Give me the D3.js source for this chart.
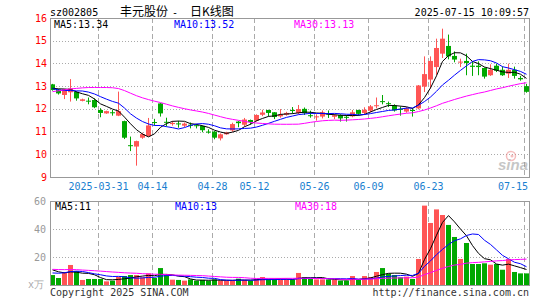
<!DOCTYPE html>
<html><head><meta charset="utf-8">
<script src="https://cdn.jsdelivr.net/npm/d3@7"></script>
<style>
body{margin:0;background:#fff}
svg{display:block}
text{font-family:"DejaVu Sans Mono","Liberation Mono",monospace;font-size:10px}
</style>
</head><body>
<svg id="chart" width="545" height="300"></svg>
<script>
// ---- data ----
const dates = ["03-19","03-20","03-21","03-24","03-25","03-26","03-27","03-28","03-31",
"04-01","04-02","04-03","04-07","04-08","04-09","04-10","04-11","04-14","04-15","04-16","04-17","04-18","04-21","04-22","04-23","04-24","04-25","04-28","04-29","04-30",
"05-06","05-07","05-08","05-09","05-12","05-13","05-14","05-15","05-16","05-19","05-20","05-21","05-22","05-23","05-26","05-27","05-28","05-29","05-30",
"06-03","06-04","06-05","06-06","06-09","06-10","06-11","06-12","06-13","06-16","06-17","06-18","06-19","06-20","06-23","06-24","06-25","06-26","06-27","06-30",
"07-01","07-02","07-03","07-04","07-07","07-08","07-09","07-10","07-11","07-14","07-15"];
const opens  = [13.08,12.85,12.61,12.73,12.75,12.35,12.36,12.39,11.95,11.80,11.85,11.70,11.46,10.40,10.34,10.73,10.80,11.42,12.24,11.43,
11.33,11.36,11.26,11.30,11.28,11.25,11.00,11.00,10.70,10.88,11.05,11.44,11.30,11.51,11.48,11.74,11.95,11.85,11.67,11.74,
11.95,11.82,12.00,11.72,11.64,11.66,11.80,11.65,11.73,11.65,11.67,11.95,11.82,11.92,12.12,12.34,12.25,12.15,12.00,11.88,
11.95,12.02,12.98,13.29,13.84,14.43,14.77,14.33,14.05,14.11,13.90,13.90,13.80,13.48,13.90,13.72,13.55,13.72,13.36,13.00];
const highs  = [13.10,12.88,12.88,13.31,12.78,12.45,12.50,12.46,12.03,11.92,11.95,12.76,11.48,10.78,10.60,10.95,11.60,11.56,12.25,11.61,
11.46,11.47,11.40,11.40,11.33,11.27,11.10,11.02,10.92,10.99,11.39,11.46,11.60,11.53,11.76,11.96,11.96,11.86,11.99,11.87,
12.08,12.17,12.06,11.92,11.76,11.93,11.93,11.77,11.76,11.73,11.95,11.96,12.07,12.17,12.50,12.61,12.32,12.20,12.11,12.08,
12.04,13.05,14.31,14.31,15.09,15.53,15.27,14.53,14.21,14.43,14.10,14.09,13.82,13.96,13.99,13.87,13.99,13.86,13.45,13.10];
const lows   = [12.80,12.63,12.43,12.32,12.36,12.33,12.20,12.03,11.63,11.78,11.70,11.68,10.67,10.14,9.50,10.68,10.78,11.26,11.66,11.22,
11.26,11.17,11.20,11.14,11.14,10.97,10.91,10.66,10.61,10.86,10.99,11.19,11.22,11.30,11.44,11.68,11.67,11.55,11.61,11.70,
11.79,11.76,11.73,11.61,11.48,11.58,11.60,11.55,11.44,11.44,11.63,11.70,11.73,11.85,12.02,12.20,12.08,11.88,11.70,11.83,
11.66,11.98,12.74,12.90,13.50,14.24,14.18,14.05,13.84,13.48,13.45,13.48,13.33,13.45,13.62,13.45,13.36,13.33,13.24,12.71];
const closes = [12.83,12.68,12.86,12.90,12.46,12.42,12.33,12.07,11.82,11.90,11.83,11.90,10.73,10.36,10.58,10.89,11.27,11.40,11.80,11.40,
11.38,11.33,11.35,11.28,11.25,11.06,10.98,10.73,10.88,10.96,11.33,11.37,11.53,11.42,11.73,11.84,11.82,11.64,11.75,11.82,
11.92,11.99,11.81,11.70,11.67,11.85,11.77,11.72,11.58,11.62,11.85,11.78,11.96,12.11,12.16,12.30,12.23,11.93,11.98,12.02,
11.92,13.03,13.53,14.11,14.68,15.09,14.31,14.17,14.08,14.02,13.85,13.84,13.42,13.72,13.68,13.48,13.72,13.45,13.30,12.75];
// volume, unit 万手
const volumes = [7.1,5.0,9.3,14.3,10.0,3.6,4.3,4.3,4.3,2.6,3.1,5.7,6.4,7.1,7.1,5.5,8.3,5.0,12.1,7.1,
3.8,3.6,3.1,4.0,3.1,3.6,3.1,4.0,3.1,3.1,3.1,4.5,3.6,3.1,4.5,5.7,4.0,4.0,4.0,4.0,
3.6,8.6,5.7,4.3,4.0,4.0,4.0,3.6,3.1,3.1,6.4,3.6,6.4,5.7,9.3,12.1,8.1,7.1,5.5,6.0,
4.3,18.6,56.7,44.3,54.0,50.0,42.9,34.3,18.6,30.0,15.0,15.0,15.5,14.5,15.0,10.9,18.6,9.3,8.3,8.3];
// 29 sessions before the first visible one (estimated, only feed the moving averages)
const prevCloses = [11.5,11.6,11.7,11.8,11.7,11.9,12.0,11.9,11.9,12.1,
13.0,13.4,13.8,13.9,13.7,13.6,13.5,13.6,13.6,13.6,
13.3,13.1,12.9,12.6,12.5,12.8,12.9,13.0,13.0];
const prevVolumes = [10,11,12,13,12,11,12,13,12,12,
14,15,13,12,14,13,12,14,13,12,
7,6,6,7,6,12,13,11,11];
// legend values as printed on the reference
const priceMALegend = ["13.34","13.52","13.13"];
const volumeMALegend = ["11","13","18"];
const priceTicks = [9,10,11,12,13,14,15,16];
const volumeTicks = [20,40,60];
const dateTicks = ["03-31","04-14","04-28","05-12","05-26","06-09","06-23","07-15"];
const dateTickLabels = ["2025-03-31","04-14","04-28","05-12","05-26","06-09","06-23","07-15"];
const maPeriods = [5,10,30];
const maColors = ["#000000","#0000ff","#ff00ff"];

// ---- layout ----
const svg = d3.select("#chart");
const L = 50, R = 529;
const P = {top:18, bottom:177};
const V = {top:201, bottom:285};
const UP = "#ff5555", DOWN = "#00a800", GRID = "#aaaaaa", BORDER = "#999999";

const x = d3.scaleBand().domain(dates).range([L, R]).paddingInner(1/6).paddingOuter(0);
const bw = x.bandwidth();
const cx = d => x(d) + bw/2;
const y = d3.scaleLinear().domain([9,16]).range([P.bottom, P.top]);
const yv = d3.scaleLinear().domain([0,60]).range([V.bottom, V.top]);

function movingAvg(prev, vals, n){
  const all = prev.concat(vals), off = prev.length;
  return vals.map((v,i)=> d3.mean(all.slice(off+i-n+1, off+i+1)));
}
const priceMA = maPeriods.map(n=>movingAvg(prevCloses, closes, n));
const volMA = maPeriods.map(n=>movingAvg(prevVolumes, volumes, n));

function panel(top, bottom, yScale, ticks){
  const g = svg.append("g");
  g.selectAll("line.h").data(ticks.filter(t=>yScale(t)>top+1 && yScale(t)<bottom-1)).join("line")
    .attr("x1",L).attr("x2",R).attr("y1",d=>Math.round(yScale(d))+0.5).attr("y2",d=>Math.round(yScale(d))+0.5)
    .attr("stroke",GRID).attr("stroke-dasharray","1,2");
  g.selectAll("line.v").data(dateTicks).join("line")
    .attr("x1",d=>x(d)+0.5).attr("x2",d=>x(d)+0.5).attr("y1",top).attr("y2",bottom)
    .attr("stroke",GRID).attr("stroke-dasharray","5,3");
  return g;
}
panel(P.top, P.bottom, y, priceTicks);
panel(V.top, V.bottom, yv, volumeTicks);

// candles
const idx = d3.range(dates.length);
const isUp = i => closes[i] >= opens[i];
const cg = svg.append("g");
cg.selectAll("line").data(idx).join("line")
  .attr("x1",i=>Math.floor(cx(dates[i]))+0.5).attr("x2",i=>Math.floor(cx(dates[i]))+0.5)
  .attr("y1",i=>y(highs[i])).attr("y2",i=>y(lows[i]))
  .attr("stroke",i=>isUp(i)?UP:DOWN);
cg.selectAll("rect").data(idx).join("rect")
  .attr("x",i=>x(dates[i])).attr("width",bw)
  .attr("y",i=>y(Math.max(opens[i],closes[i])))
  .attr("height",i=>Math.max(1, Math.abs(y(opens[i])-y(closes[i]))))
  .attr("fill",i=>isUp(i)?UP:DOWN);

// volume bars
svg.append("g").selectAll("rect").data(idx).join("rect")
  .attr("x",i=>x(dates[i])).attr("width",bw)
  .attr("y",i=>yv(volumes[i])).attr("height",i=>yv(0)-yv(volumes[i]))
  .attr("fill",i=>isUp(i)?UP:DOWN);

// moving averages
const lineP = d3.line().x((d,i)=>cx(dates[i])).y(d=>y(d));
const lineV = d3.line().x((d,i)=>cx(dates[i])).y(d=>yv(d));
maPeriods.forEach((n,k)=>{
  svg.append("path").attr("d",lineP(priceMA[k])).attr("fill","none").attr("stroke",maColors[k]).attr("stroke-width",1);
  svg.append("path").attr("d",lineV(volMA[k])).attr("fill","none").attr("stroke",maColors[k]).attr("stroke-width",1);
});

// borders
[[P.top,P.bottom],[V.top,V.bottom]].forEach(([t,b])=>{
  svg.append("rect").attr("x",L+0.5).attr("y",t+0.5).attr("width",R-L).attr("height",b-t)
    .attr("fill","none").attr("stroke",BORDER);
});

// watermark
const wm = svg.append("g").attr("opacity",0.55);
wm.append("circle").attr("cx",511).attr("cy",156).attr("r",4.5).attr("fill","none").attr("stroke","#e88").attr("stroke-width",1.5);
wm.append("circle").attr("cx",512).attr("cy",156).attr("r",1.5).attr("fill","#e88");
wm.append("text").attr("x",528).attr("y",170).attr("text-anchor","end")
  .style("font-family","Liberation Sans, Arial, sans-serif").style("font-size","15px").style("font-style","italic").style("font-weight","bold")
  .attr("fill","#999").text("sina");

// axis labels
svg.append("g").selectAll("text").data(priceTicks).join("text")
  .attr("x",47).attr("y",d=>y(d)+3.5).attr("text-anchor","end").attr("fill","#ff0000").text(d=>d);
svg.append("g").selectAll("text").data(volumeTicks).join("text")
  .attr("x",46).attr("y",d=>yv(d)+3.5).attr("text-anchor","end").attr("fill","#999999").text(d=>d);
svg.append("text").attr("x",44).attr("y",yv(0)+3).attr("text-anchor","end").attr("fill","#aaaaaa").text("x万");
svg.append("g").selectAll("text").data(dateTicks).join("text")
  .attr("x",(d,i)=> i===dateTicks.length-1 ? R-1 : x(d)+0.5)
  .attr("text-anchor",(d,i)=> i===dateTicks.length-1 ? "end" : "middle")
  .attr("y",190).attr("fill","#1a80d0").text((d,i)=>dateTickLabels[i]);

// header
svg.append("text").attr("x",50).attr("y",15.5).attr("fill","#000").text("sz002805");
svg.append("text").attr("x",120).attr("y",15.5).attr("fill","#000")
  .style("font-family","'Noto Sans CJK SC',sans-serif").style("font-size","12px").text("丰元股份");
svg.append("text").attr("x",172).attr("y",15.5).attr("fill","#000").text("-");
svg.append("text").attr("x",190).attr("y",15.5).attr("fill","#000")
  .style("font-family","'Noto Sans CJK SC',sans-serif").style("font-size","12px").text("日K线图");
svg.append("text").attr("x",R).attr("y",15.5).attr("text-anchor","end").attr("fill","#000").text("2025-07-15 10:09:57");

// MA legends
const legX = [54,174,294];
maPeriods.forEach((n,k)=>{
  svg.append("text").attr("x",legX[k]).attr("y",28).attr("fill",maColors[k]).text(`MA${n}:${priceMALegend[k]}`);
  svg.append("text").attr("x",legX[k]+1).attr("y",210).attr("fill",maColors[k]).text(`MA${n}:${volumeMALegend[k]}`);
});

// footer
svg.append("text").attr("x",50).attr("y",295.5).attr("fill","#333").text("Copyright 2025 SINA.COM");
svg.append("text").attr("x",R).attr("y",295.5).attr("text-anchor","end").attr("fill","#333").text("http://finance.sina.com.cn");
</script>
</body></html>
